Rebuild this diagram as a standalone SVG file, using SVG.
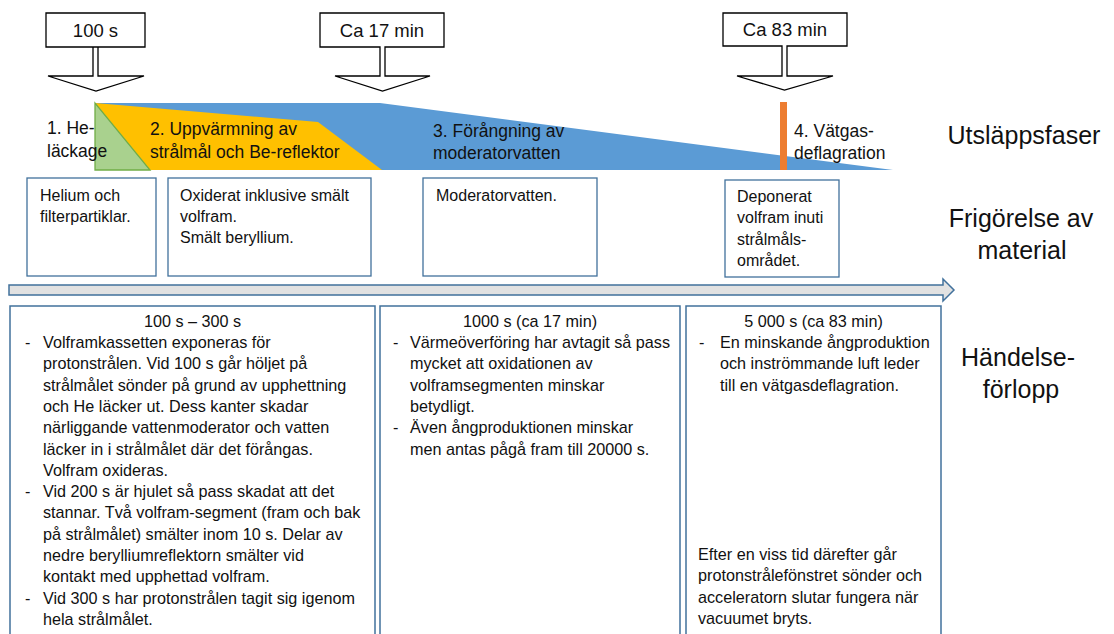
<svg xmlns="http://www.w3.org/2000/svg" width="1114" height="634" viewBox="0 0 1114 634">
<style>
text{font-family:"Liberation Sans",Arial,sans-serif;fill:#111}
.co{fill:#fff;stroke:#000;stroke-width:1.3;stroke-linejoin:miter}
.cot{font-size:18.5px;text-anchor:middle}
.ph{font-size:17.5px}
.mb{fill:#fff;stroke:#41719C;stroke-width:1.3}
.mt{font-size:16px}
.eb{fill:#fff;stroke:#41719C;stroke-width:1.5}
.et{font-size:16.2px}
.ttl{font-size:16.2px;text-anchor:middle}
.side{font-size:25px;text-anchor:middle}
</style>
<rect width="1114" height="634" fill="#fff"/>

<g id="phases">
<polygon points="95,103 380,103 893,170 95,170" fill="#5B9BD5"/>
<polygon points="95,103 318,122 382,170 95,170" fill="#FFC000"/>
<polygon points="95,103 95,170 150,170" fill="#A9D18E" stroke="#70AD47" stroke-width="1.3"/>
<rect x="780" y="102" width="7" height="68" fill="#ED7D31"/>
</g>

<g id="phase1">
<text class="ph" x="47" y="134">1. He-</text>
<text class="ph" x="47" y="157">läckage</text>
</g>
<g id="phase2">
<text class="ph" x="150" y="135">2. Uppvärmning av</text>
<text class="ph" x="150" y="158">strålmål och Be-reflektor</text>
</g>
<g id="phase3">
<text class="ph" x="433" y="137">3. Förångning av</text>
<text class="ph" x="433" y="159">moderatorvatten</text>
</g>
<g id="phase4">
<text class="ph" x="794" y="137">4. Vätgas-</text>
<text class="ph" x="794" y="159">deflagration</text>
</g>

<g id="callout-100s">
<path class="co" d="M46,13 H145 V47 H98 V76 H144 L96,91 L48,76 H93 V47 H46 Z M93,47 H98"/>
<text class="cot" x="95.5" y="37">100 s</text>
</g>
<g id="callout-17min">
<path class="co" d="M320,13 H444 V47 H385 V76 H430 L382.5,91 L335,76 H380 V47 H320 Z"/>
<text class="cot" x="382" y="37">Ca 17 min</text>
</g>
<g id="callout-83min">
<path class="co" d="M723,13 H847 V46 H787 V76 H833 L784.5,90 L737,76 H782 V46 H723 Z"/>
<text class="cot" x="785" y="36">Ca 83 min</text>
</g>

<g id="material1">
<rect class="mb" x="27" y="178" width="129" height="98"/>
<text class="mt" x="40" y="201">Helium och</text>
<text class="mt" x="40" y="222">filterpartiklar.</text>
</g>
<g id="material2">
<rect class="mb" x="168" y="178" width="203" height="98"/>
<text class="mt" x="180" y="201">Oxiderat inklusive smält</text>
<text class="mt" x="180" y="222">volfram.</text>
<text class="mt" x="180" y="243">Smält beryllium.</text>
</g>
<g id="material3">
<rect class="mb" x="423" y="178" width="174" height="98"/>
<text class="mt" x="436" y="201">Moderatorvatten.</text>
</g>
<g id="material4">
<rect class="mb" x="725" y="180" width="114" height="97"/>
<text class="mt" x="737" y="202">Deponerat</text>
<text class="mt" x="737" y="223">volfram inuti</text>
<text class="mt" x="737" y="245">strålmåls-</text>
<text class="mt" x="737" y="266">området.</text>
</g>

<g id="connectors">
<path d="M9,285 H943 V279 L954,290 L943,301 V295 H9 Z" fill="#E2E2E2" stroke="#41719C" stroke-width="1.5" stroke-linejoin="miter"/>
</g>

<g id="event1">
<rect class="eb" x="10" y="306" width="365" height="340"/>
<text class="ttl" x="192.5" y="327">100 s – 300 s</text>
<g class="et">
<text class="et" x="25" y="348">-</text>
<text class="et" x="43" y="348">Volframkassetten exponeras för</text>
<text class="et" x="43" y="369.3">protonstrålen. Vid 100 s går höljet på</text>
<text class="et" x="43" y="390.6">strålmålet sönder på grund av upphettning</text>
<text class="et" x="43" y="411.9">och He läcker ut. Dess kanter skadar</text>
<text class="et" x="43" y="433.2">närliggande vattenmoderator och vatten</text>
<text class="et" x="43" y="454.5">läcker in i strålmålet där det förångas.</text>
<text class="et" x="43" y="475.8">Volfram oxideras.</text>
<text class="et" x="25" y="497.1">-</text>
<text class="et" x="43" y="497.1">Vid 200 s är hjulet så pass skadat att det</text>
<text class="et" x="43" y="518.4">stannar. Två volfram-segment (fram och bak</text>
<text class="et" x="43" y="539.7">på strålmålet) smälter inom 10 s. Delar av</text>
<text class="et" x="43" y="561">nedre berylliumreflektorn  smälter vid</text>
<text class="et" x="43" y="582.3">kontakt med upphettad volfram.</text>
<text class="et" x="25" y="603.6">-</text>
<text class="et" x="43" y="603.6">Vid 300 s har protonstrålen tagit sig igenom</text>
<text class="et" x="43" y="624.9">hela strålmålet.</text>
</g>
</g>

<g id="event2">
<rect class="eb" x="380" y="306" width="300" height="340"/>
<text class="ttl" x="530" y="327">1000 s (ca 17 min)</text>
<text class="et" x="393" y="348">-</text>
<text class="et" x="410" y="348">Värmeöverföring har avtagit så pass</text>
<text class="et" x="410" y="369.3">mycket att oxidationen av</text>
<text class="et" x="410" y="390.6">volframsegmenten minskar</text>
<text class="et" x="410" y="411.9">betydligt.</text>
<text class="et" x="393" y="433.2">-</text>
<text class="et" x="410" y="433.2">Även ångproduktionen minskar</text>
<text class="et" x="410" y="454.5">men antas pågå fram till 20000 s.</text>
</g>

<g id="event3">
<rect class="eb" x="686" y="306" width="255" height="340"/>
<text class="ttl" x="813.5" y="327">5 000 s (ca 83 min)</text>
<text class="et" x="699" y="348">-</text>
<text class="et" x="720" y="348">En minskande ångproduktion</text>
<text class="et" x="720" y="369.3">och inströmmande luft leder</text>
<text class="et" x="720" y="390.6">till en vätgasdeflagration.</text>
<text class="et" x="698" y="560">Efter en viss tid därefter går</text>
<text class="et" x="698" y="581.3">protonstrålefönstret sönder och</text>
<text class="et" x="698" y="602.6">acceleratorn slutar fungera när</text>
<text class="et" x="698" y="623.9">vacuumet bryts.</text>
</g>

<g id="label-phases">
<text class="side" x="1024" y="144">Utsläppsfaser</text>
</g>
<g id="label-material">
<text class="side" x="1021" y="227">Frigörelse av</text>
<text class="side" x="1022" y="259">material</text>
</g>
<g id="label-events">
<text class="side" x="1018" y="366">Händelse-</text>
<text class="side" x="1021" y="398">förlopp</text>
</g>
</svg>
